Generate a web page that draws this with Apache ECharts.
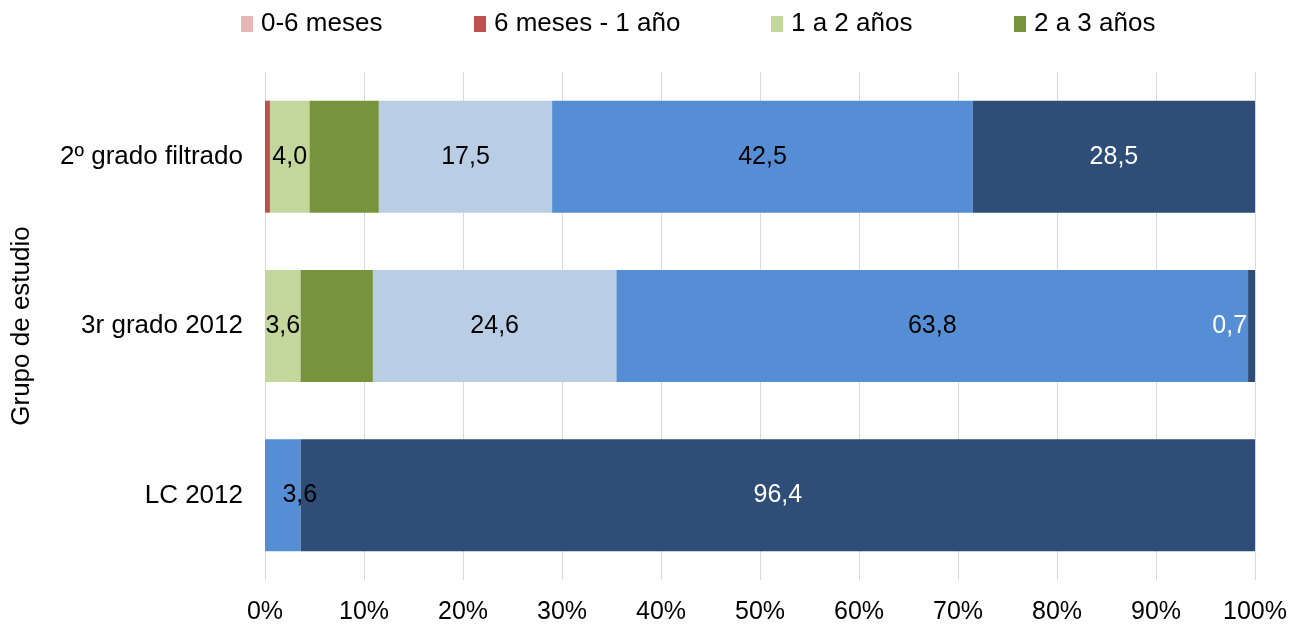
<!DOCTYPE html>
<html>
<head>
<meta charset="utf-8">
<script src="https://cdn.jsdelivr.net/npm/echarts@6/dist/echarts.min.js"></script>
<style>html,body{margin:0;padding:0;background:#fff}#c{width:1305px;height:628px}</style>
</head>
<body>
<div id="c"></div>
<script>
const categories = ['2º grado filtrado', '3r grado 2012', 'LC 2012'];
const seriesNames = ['0-6 meses', '6 meses - 1 año', '1 a 2 años', '2 a 3 años', '3 a 4 años', '4 a 5 años', 'Más de 5 años'];
const s0_6meses = [0, 0, 0];
const s6meses_1ano = [0.5, 0, 0];
const s1_2anos = [4.0, 3.6, 0];
const s2_3anos = [7.0, 7.3, 0];
const s3_4anos = [17.5, 24.6, 0];
const s4_5anos = [42.5, 63.8, 3.6];
const sMas5anos = [28.5, 0.7, 96.4];
const xTicks = ['0%', '10%', '20%', '30%', '40%', '50%', '60%', '70%', '80%', '90%', '100%'];
const legendShown = ['0-6 meses', '6 meses - 1 año', '1 a 2 años', '2 a 3 años'];

const colors = ['#E6B9B8', '#C0504D', '#C3D69B', '#77933C', '#B9CDE5', '#558ED5', '#2E4E78'];
const values = [s0_6meses, s6meses_1ano, s1_2anos, s2_3anos, s3_4anos, s4_5anos, sMas5anos];
const labelOn = [false, false, true, false, true, true, true];
const labelColor = ['#000', '#000', '#000', '#000', '#000', '#000', '#fff'];
const FONT = 'Liberation Sans, Arial, sans-serif';
const fmt = v => v.toFixed(1).replace('.', ',');

const series = values.map((arr, i) => ({
  name: seriesNames[i],
  type: 'bar',
  stack: 'total',
  barWidth: 112,
  itemStyle: { color: colors[i] },
  label: {
    show: labelOn[i],
    position: 'inside',
    color: labelColor[i],
    fontFamily: FONT,
    fontSize: 25,
    formatter: p => p.value > 0 ? fmt(p.value) : ''
  },
  data: arr.map((v, j) => {
    const d = { value: v };
    if (i === 5 && j === 2) d.label = { offset: [17, 0] };
    if (i === 6 && j === 1) d.label = { position: 'left', distance: 1 };
    return d;
  })
}));

const legendLefts = [236, 469, 766, 1009];
const legends = legendShown.map((name, k) => ({
  data: [name],
  top: 6,
  left: legendLefts[k],
  itemWidth: 12,
  itemHeight: 16,
  icon: 'rect',
  selectedMode: false,
  textStyle: { fontSize: 26, color: '#000', fontFamily: FONT, padding: [0, 0, 0, 3] }
}));

const chart = echarts.init(document.getElementById('c'));
chart.setOption({
  animation: false,
  textStyle: { fontFamily: FONT },
  legend: legends,
  grid: { left: 265, right: 50, top: 72, bottom: 48 },
  xAxis: {
    type: 'value',
    min: 0,
    max: 100,
    interval: 10,
    axisLine: { show: false },
    axisTick: { show: false },
    splitLine: { lineStyle: { color: '#D9D9D9', width: 1 } },
    axisLabel: {
      margin: 20,
      fontSize: 25,
      color: '#000',
      fontFamily: FONT,
      formatter: v => xTicks[Math.round(v / 10)]
    }
  },
  yAxis: {
    type: 'category',
    inverse: true,
    data: categories,
    name: 'Grupo de estudio',
    nameLocation: 'middle',
    nameGap: 230,
    nameRotate: 90,
    nameTextStyle: { fontSize: 26, color: '#000', fontFamily: FONT },
    axisLine: { show: false },
    axisTick: { show: false },
    axisLabel: { margin: 22, fontSize: 26, color: '#000', fontFamily: FONT }
  },
  series: series
});
</script>
</body>
</html>
